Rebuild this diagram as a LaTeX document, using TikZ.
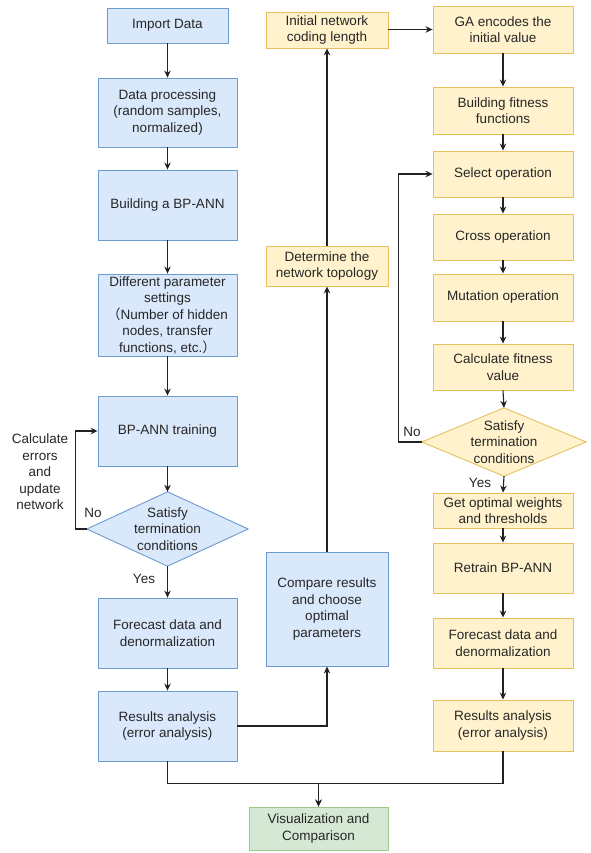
\documentclass[tikz,border=0pt]{standalone}
\usepackage{fontspec}
\setmainfont{Liberation Sans}
\newfontfamily\cjkfont{Noto Sans CJK SC}
\usetikzlibrary{arrows.meta,backgrounds}
\definecolor{bfill}{HTML}{DAE8FC}
\definecolor{bline}{HTML}{6C9BCF}
\definecolor{ofill}{HTML}{FFF2CC}
\definecolor{oline}{HTML}{E8C060}
\definecolor{gfill}{HTML}{D5E8D4}
\definecolor{gline}{HTML}{9AC78A}
\definecolor{lnk}{HTML}{222222}
\begin{document}
\begin{tikzpicture}[x=1pt,y=-1pt,
  font=\fontsize{13.5}{16.5}\selectfont,
  box/.style={draw, line width=0.9pt, align=center, inner sep=0pt, text=black!85},
  bluebox/.style={box, fill=bfill, draw=bline},
  orbox/.style={box, fill=ofill, draw=oline},
  grbox/.style={box, fill=gfill, draw=gline},
  dia/.style={inner sep=0pt, align=center, text=black!85},
  lab/.style={inner sep=0pt, align=center, text=black!85},
  arr/.style={draw=lnk, line width=1.1pt, -{Stealth[length=7pt,width=6.5pt]}},
  ln/.style={draw=lnk, line width=1.1pt}
]
\useasboundingbox (0,0) rectangle (590,853);
% left column
\node[bluebox, minimum width=121pt, minimum height=35pt] (imp) at (167.5,25.5) {Import Data};
\node[bluebox, minimum width=139pt, minimum height=69pt] (dp) at (167.5,112.5) {Data processing\\(random samples,\\normalized)};
\node[bluebox, minimum width=139pt, minimum height=70pt] (bb) at (167.5,205) {Building a BP-ANN};
\node[bluebox, minimum width=139pt, minimum height=82pt] (dps) at (167.5,315) {Different parameter\\settings\\{\cjkfont（}Number of hidden\\nodes, transfer\\functions, etc.{\cjkfont）}};
\node[bluebox, minimum width=139pt, minimum height=70pt] (tr) at (167.5,431) {BP-ANN training};
\node[dia, minimum width=161pt, minimum height=74pt] (d1) at (167.5,529) {Satisfy\\termination\\conditions};
\node[bluebox, minimum width=139pt, minimum height=70pt] (fc) at (167.5,633) {Forecast data and\\denormalization};
\node[bluebox, minimum width=139pt, minimum height=70pt] (ra) at (167.5,726) {Results analysis\\(error analysis)};
\node[grbox, minimum width=139pt, minimum height=43pt] (viz) at (318.5,828.5) {Visualization and\\Comparison};
% middle column
\node[bluebox, minimum width=122pt, minimum height=114pt] (cmp) at (327,609) {Compare results\\and choose\\optimal\\parameters};
\node[orbox, minimum width=122pt, minimum height=40pt] (top) at (327,266) {Determine the\\network topology};
\node[orbox, minimum width=122pt, minimum height=36pt] (ini) at (327,30) {Initial network\\coding length};
% right column
\node[orbox, minimum width=140pt, minimum height=47pt] (ga) at (503,29.5) {GA encodes the\\initial value};
\node[orbox, minimum width=140pt, minimum height=47pt] (bf) at (503,110.5) {Building fitness\\functions};
\node[orbox, minimum width=140pt, minimum height=46pt] (sel) at (503,174) {Select operation};
\node[orbox, minimum width=140pt, minimum height=46pt] (cr) at (503,237) {Cross operation};
\node[orbox, minimum width=140pt, minimum height=47pt] (mu) at (503,297.5) {Mutation operation};
\node[orbox, minimum width=140pt, minimum height=46pt] (cf) at (503,367) {Calculate fitness\\value};
\node[dia, minimum width=164pt, minimum height=68pt] (d2) at (504,442) {Satisfy\\termination\\conditions};
\node[orbox, minimum width=140pt, minimum height=35pt] (go) at (503,510.5) {Get optimal weights\\and thresholds};
\node[orbox, minimum width=140pt, minimum height=50pt] (rt) at (503,568) {Retrain BP-ANN};
\node[orbox, minimum width=140pt, minimum height=50pt] (fr) at (503,643) {Forecast data and\\denormalization};
\node[orbox, minimum width=140pt, minimum height=51pt] (rr) at (503,725.5) {Results analysis\\(error analysis)};
% diamonds
\begin{scope}[on background layer]
\draw[fill=bfill, draw=bline, line width=0.9pt] (d1.north) -- (d1.east) -- (d1.south) -- (d1.west) -- cycle;
\draw[fill=ofill, draw=oline, line width=0.9pt] (d2.north) -- (d2.east) -- (d2.south) -- (d2.west) -- cycle;
\end{scope}
% labels
\node[lab] (calc) at (40,472) {Calculate\\errors\\and\\update\\network};
\node[lab] (no1) at (93,513) {No};
\node[lab] (yes1) at (144,579) {Yes};
\node[lab] (no2) at (412,432) {No};
\node[lab] (yes2) at (480,483) {Yes};
% connectors left
\draw[arr] (imp.south) -- (dp.north);
\draw[arr] (dp.south) -- (bb.north);
\draw[arr] (bb.south) -- (dps.north);
\draw[arr] (dps.south) -- (tr.north);
\draw[arr] (tr.south) -- (d1.north);
\draw[arr] (d1.west) -- ++(-11.5,0) |- (tr.west);
\draw[arr] (d1.south) -- (fc.north);
\draw[arr] (fc.south) -- (ra.north);
\draw[arr] (ra.south) -- ++(0,22) -| (viz.north);
\draw[arr] (rr.south) -- ++(0,32) -| (viz.north);
\draw[arr] (ra.east) -| (cmp.south);
\draw[arr] (cmp.north) -- (top.south);
\draw[arr] (top.north) -- (ini.south);
\draw[arr] (ini.east |- ga.west) -- (ga.west);
% connectors right
\draw[arr] (ga.south) -- (bf.north);
\draw[arr] (bf.south) -- (sel.north);
\draw[arr] (sel.south) -- (cr.north);
\draw[arr] (cr.south) -- (mu.north);
\draw[arr] (mu.south) -- (cf.north);
\draw[arr] (cf.south) -- (d2.north);
\draw[arr] (d2.west) -- ++(-23,0) |- (sel.west);
\draw[arr] (d2.south) -- (go.north);
\draw[arr] (go.south) -- (rt.north);
\draw[arr] (rt.south) -- (fr.north);
\draw[arr] (fr.south) -- (rr.north);
\end{tikzpicture}
\end{document}
